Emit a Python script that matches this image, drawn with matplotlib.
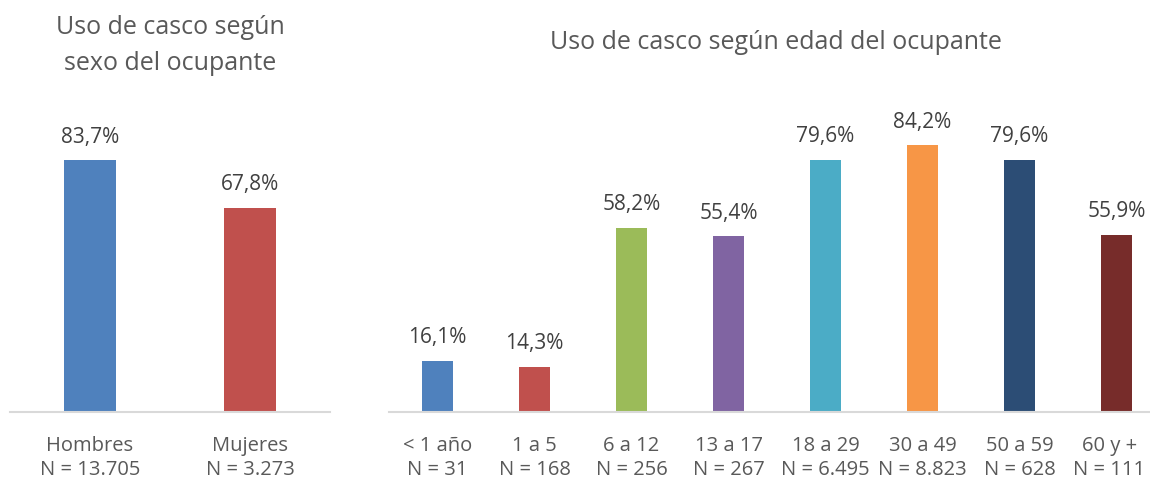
import matplotlib
matplotlib.use("Agg")
import matplotlib.pyplot as plt
from matplotlib.transforms import ScaledTranslation

plt.rcParams['font.family'] = ['Open Sans', 'DejaVu Sans']

sex_categories = ["Hombres\nN = 13.705", "Mujeres\nN = 3.273"]
sex_values = [83.7, 67.8]
sex_colors = ["#4F81BD", "#C0504D"]

age_categories = ["< 1 año\nN = 31", "1 a 5\nN = 168", "6 a 12\nN = 256", "13 a 17\nN = 267",
                  "18 a 29\nN = 6.495", "30 a 49\nN = 8.823", "50 a 59\nN = 628", "60 y +\nN = 111"]
age_values = [16.1, 14.3, 58.2, 55.4, 79.6, 84.2, 79.6, 55.9]
age_colors = ["#4F81BD", "#C0504D", "#9BBB59", "#8064A2", "#4BACC6", "#F79646", "#2C4D75", "#772C2A"]

W, H = 1150, 482
fig = plt.figure(figsize=(W / 100, H / 100), dpi=100)

def px_axes(x0, x1, ybase, height):
    return fig.add_axes([x0 / W, (H - ybase) / H, (x1 - x0) / W, height / H])

text_col = "#595959"
label_col = "#404040"

def style(ax, cats, vals, cols, width):
    x = range(len(cats))
    ax.bar(x, vals, width=width, color=cols)
    ax.set_xlim(-0.5, len(cats) - 0.5)
    ax.set_ylim(0, 100)
    for s in ["top", "right", "left"]:
        ax.spines[s].set_visible(False)
    ax.spines["bottom"].set_color("#D9D9D9")
    ax.spines["bottom"].set_linewidth(1.5)
    ax.set_yticks([])
    ax.set_xticks(list(x))
    ax.set_xticklabels(cats, fontsize=14.5, color=text_col, linespacing=1.32)
    ax.tick_params(axis="x", length=0, pad=17)
    for xi, v in zip(x, vals):
        ax.annotate(f"{v:.1f}%".replace(".", ","), (xi, v), xytext=(0, 9),
                    textcoords="offset points", ha="center", va="bottom",
                    fontsize=15, color=label_col)

ax1 = px_axes(10, 330, 412, 301)
style(ax1, sex_categories, sex_values, sex_colors, 0.325)
fig.text(170 / W, 1 - 34 / H, "Uso de casco según", ha="center", va="baseline",
         fontsize=18, color=text_col)
fig.text(170 / W, 1 - 70 / H, "sexo del ocupante", ha="center", va="baseline",
         fontsize=18, color=text_col)

ax2 = px_axes(389, 1165, 412, 317)
style(ax2, age_categories, age_values, age_colors, 0.32)
last = ax2.get_xticklabels()[-1]
last.set_transform(last.get_transform() + ScaledTranslation(-7 / 100, 0, fig.dpi_scale_trans))
fig.text(776 / W, 1 - 49 / H, "Uso de casco según edad del ocupante", ha="center", va="baseline",
         fontsize=18, color=text_col)

fig.savefig("out.png", dpi=100)
